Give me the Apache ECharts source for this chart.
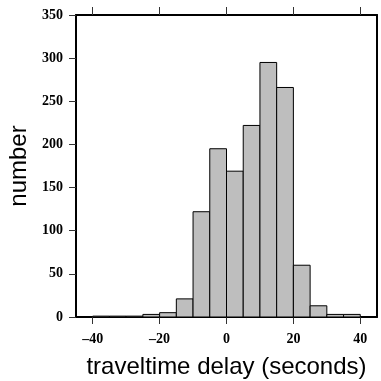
<!DOCTYPE html>
<html><head><meta charset="utf-8">
<script src="https://cdn.jsdelivr.net/npm/echarts@6/dist/echarts.min.js"></script>
<style>html,body{margin:0;padding:0;background:#fff}#c{width:381px;height:381px}</style>
</head><body><div id="c"></div>
<script>
const binStarts = [-40,-35,-30,-25,-20,-15,-10,-5,0,5,10,15,20,25,30,35];
const binWidth = 5;
const counts = [1,1,1,3,5,21,122,195,169,222,295,266,60,13,3,3];
const xTicks = [-40,-20,0,20,40];
const xTitle = 'traveltime delay (seconds)';
const yTitle = 'number';

const data = binStarts.map((s,i)=>[s, s+binWidth, counts[i]]);
const chart = echarts.init(document.getElementById('c'), null, {renderer:'canvas'});
const tickFont = {fontFamily:'Liberation Serif', fontWeight:'bold', fontSize:14, color:'#000'};
const fmt = v => (v < 0 ? '\u2013' + Math.abs(v) : String(v));
chart.setOption({
  animation:false,
  grid:{left:76,right:4,top:15,bottom:64, containLabel:false, outerBoundsMode:'none'},
  xAxis:[{
    type:'value', min:-45, max:45, position:'bottom',
    name:xTitle, nameLocation:'middle', nameGap:38,
    nameTextStyle:{fontFamily:'Liberation Sans', fontSize:24, color:'#000'},
    axisLine:{show:true, onZero:false, lineStyle:{color:'#000', width:2}},
    axisTick:{show:true, length:7, customValues:xTicks, lineStyle:{color:'#333', width:1}},
    axisLabel:Object.assign({customValues:xTicks, margin:15, formatter:fmt}, tickFont),
    splitLine:{show:false}
  },{
    type:'value', min:-45, max:45, position:'top',
    axisLine:{show:true, onZero:false, lineStyle:{color:'#000', width:2}},
    axisTick:{show:true, length:8, customValues:xTicks, lineStyle:{color:'#333', width:1}},
    axisLabel:{show:false}, splitLine:{show:false}
  }],
  yAxis:[{
    type:'value', min:0, max:350, interval:50, position:'left',
    name:yTitle, nameLocation:'middle', nameGap:45,
    nameTextStyle:{fontFamily:'Liberation Sans', fontSize:24, color:'#000'},
    axisLine:{show:true, onZero:false, lineStyle:{color:'#000', width:2}},
    axisTick:{show:true, length:7, lineStyle:{color:'#333', width:1}},
    axisLabel:Object.assign({margin:13}, tickFont),
    splitLine:{show:false}
  },{
    type:'value', min:0, max:350, interval:50, position:'right',
    axisLine:{show:true, onZero:false, lineStyle:{color:'#000', width:2}},
    axisTick:{show:false}, axisLabel:{show:false}, splitLine:{show:false}
  }],
  series:[{
    type:'custom', xAxisIndex:0, yAxisIndex:0,
    data:data,
    encode:{x:[0,1], y:2},
    renderItem:function(params, api){
      const p0 = api.coord([api.value(0), 0]);
      const p1 = api.coord([api.value(1), api.value(2)]);
      return {type:'rect', shape:{x:p0[0], y:p1[1], width:p1[0]-p0[0], height:p0[1]-p1[1]},
        style:{fill:'#bebebe', stroke:'#000', lineWidth:1}};
    }
  }]
});
</script></body></html>
